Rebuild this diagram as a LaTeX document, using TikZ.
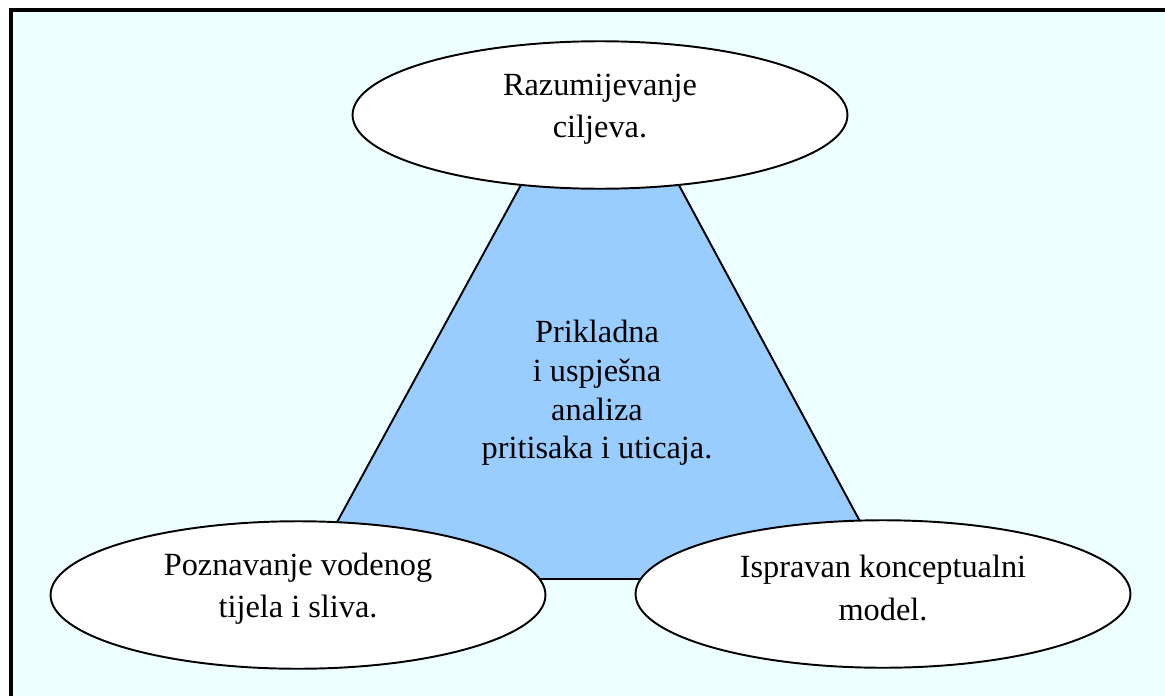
\documentclass[tikz,border=0pt]{standalone}
\usepackage{fontspec}
\setmainfont{Liberation Serif}
\usepackage{tikz}
\usetikzlibrary{shapes.geometric}

\definecolor{pozadina}{HTML}{EEFFFF}
\definecolor{plava}{HTML}{99CCFF}

\tikzset{
	oval/.style={ellipse, draw=black, line width=1.1pt, fill=white,
		minimum width=9.9cm, minimum height=2.95cm, inner sep=0pt},
	tekst/.style={align=center, inner sep=0pt,
		font=\fontsize{18.4}{24}\selectfont},
	sredina/.style={align=center, inner sep=0pt,
		font=\fontsize{18.4}{22}\selectfont}
}

\begin{document}
\begin{tikzpicture}[x=0.02cm, y=-0.02cm]
	\useasboundingbox (0,0) rectangle (1165,696);
	
	% okvir
	\fill[pozadina] (11,10) rectangle (1165,696);
	\draw[line width=1.8pt] (11,696) -- (11,10) -- (1165,10);
	
	% trapez u sredini
	\draw[fill=plava, line width=1.1pt] (540,150) -- (660,150) -- (891,579) -- (306,579) -- cycle;
	
	\node[oval] (ciljevi) at (600,115) {};
	\node[oval] (slivovi) at (298,595) {};
	\node[oval] (model) at (883,594) {};
	
	\node[tekst] (t1) at ([yshift=3.4pt]ciljevi.center) {Razumijevanje\\ciljeva.};
	\node[tekst] (t2) at ([yshift=3.4pt]slivovi.center) {Poznavanje vodenog\\tijela i sliva.};
	\node[tekst] (t3) at ([yshift=3.4pt]model.center) {Ispravan konceptualni\\model.};
	
	\node[sredina] (analiza) at (597,393) {Prikladna\\i uspješna\\analiza\\pritisaka i uticaja.};
\end{tikzpicture}
\end{document}
